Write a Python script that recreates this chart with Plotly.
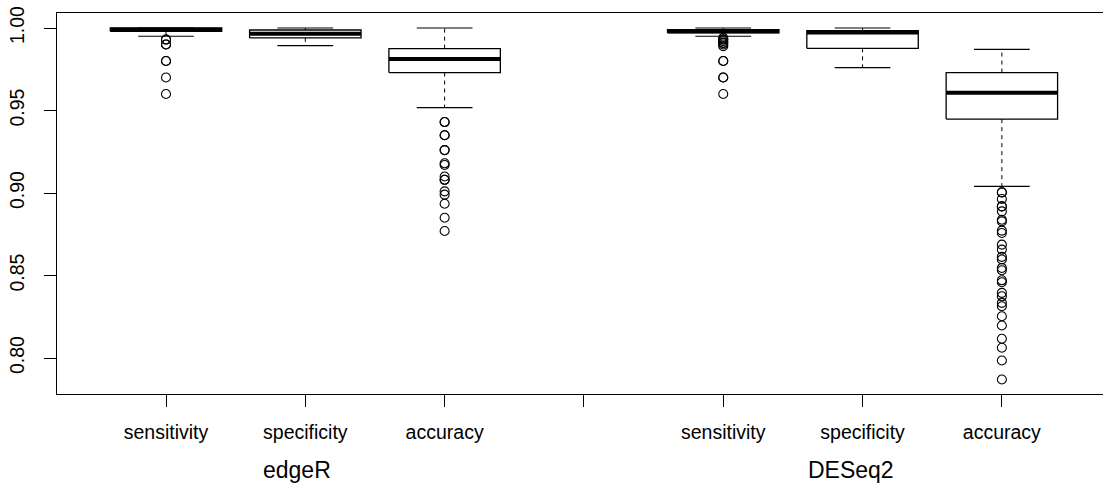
import plotly.graph_objects as go

# ---- data ----
positions = [1, 2, 3, 5, 6, 7]
categories = ["sensitivity", "specificity", "accuracy", "sensitivity", "specificity", "accuracy"]
groups = ["edgeR", "DESeq2"]
group_pos = [2, 6]

q1 = [0.998, 0.994, 0.973, 0.997, 0.9877, 0.9448]
median = [0.999, 0.9965, 0.9812, 0.998, 0.9973, 0.9607]
q3 = [1.0, 0.9988, 0.9875, 0.999, 0.9984, 0.973]
whisker_low = [0.995, 0.9893, 0.9518, 0.995, 0.976, 0.904]
whisker_high = [1.0, 1.0, 1.0, 1.0, 1.0, 0.9871]

outliers_edgeR_sens = [0.993, 0.993, 0.99, 0.99, 0.98, 0.98, 0.97, 0.96]
outliers_edgeR_spec = []
outliers_edgeR_acc = [0.943, 0.943, 0.935, 0.935, 0.926, 0.926, 0.918, 0.917, 0.91, 0.908,
                      0.908, 0.901, 0.899, 0.8935, 0.885, 0.877]
outliers_DESeq2_sens = [0.994, 0.993, 0.993, 0.992, 0.991, 0.991, 0.99, 0.989, 0.98, 0.98,
                        0.97, 0.97, 0.96]
outliers_DESeq2_spec = []
outliers_DESeq2_acc = [0.9004, 0.9004, 0.8964, 0.8919, 0.8919, 0.8889, 0.8838, 0.8828, 0.8772,
                       0.8758, 0.8687, 0.8657, 0.8613, 0.8597, 0.8546, 0.8532, 0.8471,
                       0.8459, 0.8395, 0.8374, 0.8334, 0.8314, 0.8253, 0.8197, 0.8117,
                       0.8062, 0.7985, 0.787]
outliers = [outliers_edgeR_sens, outliers_edgeR_spec, outliers_edgeR_acc,
            outliers_DESeq2_sens, outliers_DESeq2_spec, outliers_DESeq2_acc]

y_ticks = [0.80, 0.85, 0.90, 0.95, 1.00]
y_tick_labels = ["0.80", "0.85", "0.90", "0.95", "1.00"]
x_tick_vals = [1, 2, 3, 4, 5, 6, 7]
x_tick_labels = ["sensitivity", "specificity", "accuracy", "", "sensitivity", "specificity", "accuracy"]

# ---- build geometry ----
half = 0.4
staple = 0.2
bx, by, mx, my, wx, wy, sx, sy, ox, oy = [], [], [], [], [], [], [], [], [], []
for i, p in enumerate(positions):
    bx += [p - half, p + half, p + half, p - half, p - half, None]
    by += [q1[i], q1[i], q3[i], q3[i], q1[i], None]
    mx += [p - half, p + half, None]
    my += [median[i], median[i], None]
    if whisker_high[i] > q3[i]:
        wx += [p, p, None]
        wy += [q3[i], whisker_high[i], None]
    if whisker_low[i] < q1[i]:
        wx += [p, p, None]
        wy += [q1[i], whisker_low[i], None]
    sx += [p - staple, p + staple, None, p - staple, p + staple, None]
    sy += [whisker_high[i], whisker_high[i], None, whisker_low[i], whisker_low[i], None]
    for v in outliers[i]:
        ox.append(p)
        oy.append(v)

fig = go.Figure()
fig.add_trace(go.Scatter(x=wx, y=wy, mode="lines", line=dict(color="black", width=1, dash="4px,4px"),
                         hoverinfo="skip", showlegend=False))
fig.add_trace(go.Scatter(x=sx, y=sy, mode="lines", line=dict(color="black", width=1.2),
                         hoverinfo="skip", showlegend=False))
fig.add_trace(go.Scatter(x=bx, y=by, mode="lines", line=dict(color="black", width=1.3),
                         fill="toself", fillcolor="white", hoverinfo="skip", showlegend=False))
fig.add_trace(go.Scatter(x=mx, y=my, mode="lines", line=dict(color="black", width=4),
                         hoverinfo="skip", showlegend=False))
fig.add_trace(go.Scatter(x=ox, y=oy, mode="markers",
                         marker=dict(symbol="circle-open", size=9, color="black", line=dict(width=1.1)),
                         hoverinfo="skip", showlegend=False))

for g, gp, shift in zip(groups, group_pos, [-8, -12]):
    fig.add_annotation(x=gp, xref="x", y=-0.2, yref="paper", text=g, showarrow=False,
                       xanchor="center", yanchor="middle", xshift=shift,
                       font=dict(family="Liberation Sans, Arial, sans-serif", size=23, color="black"))

fig.update_layout(
    width=1103, height=492,
    margin=dict(l=57, r=0, t=13, b=98),
    paper_bgcolor="white", plot_bgcolor="white",
    font=dict(family="Liberation Sans, Arial, sans-serif", size=19.5, color="black"),
    xaxis=dict(range=[0.2175, 7.726], tickmode="array", tickvals=x_tick_vals, ticktext=x_tick_labels,
               showgrid=False, zeroline=False, showline=True, linecolor="black", linewidth=1,
               mirror=True, ticks="outside", ticklen=12, tickcolor="black", tickwidth=1,
               ticklabelstandoff=9, tickfont=dict(size=19.5)),
    yaxis=dict(range=[0.7782, 1.0091], tickmode="array", tickvals=y_ticks, ticktext=y_tick_labels,
               showgrid=False, zeroline=False, showline=True, linecolor="black", linewidth=1,
               ticks="outside", ticklen=12, tickcolor="black", tickwidth=1, tickangle=-90,
               ticklabelstandoff=12, tickfont=dict(size=19.5)),
)

fig.write_html("out.html", config={"displayModeBar": False})
